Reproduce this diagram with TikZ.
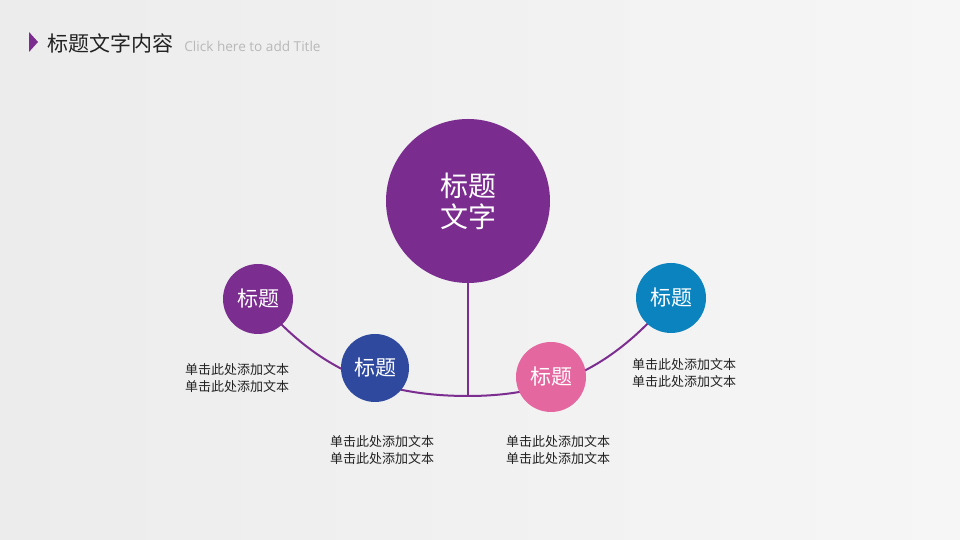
\documentclass[tikz,border=0pt]{standalone}
\usepackage{fontspec}
\setmainfont{Open Sans}
\newfontfamily\cjk{Noto Sans CJK SC}
\usepackage{xcolor}
\usetikzlibrary{positioning, backgrounds}

\definecolor{bigpurple}{RGB}{122,45,142}
\definecolor{lilac}{RGB}{123,46,143}
\definecolor{navy}{RGB}{46,73,158}
\definecolor{rose}{RGB}{229,103,160}
\definecolor{ocean}{RGB}{10,131,190}
\definecolor{inkgray}{RGB}{34,34,34}

\begin{document}
\begin{tikzpicture}[x=0.5pt,y=0.5pt,
                    main node/.style={circle,draw=none,text=white,inner sep=0pt,minimum size=35pt,font=\cjk\fontsize{10.5}{13}\selectfont},
                    note/.style={align=center,text=inkgray,font=\cjk\fontsize{6.5}{8.5}\selectfont},
                    link/.style={color=lilac,line width=1pt}]

%Background
 \useasboundingbox (0,0) rectangle (960,540);
\begin{scope}[on background layer]
 \shade[left color={rgb,255:red,236;green,236;blue,237},right color={rgb,255:red,246;green,246;blue,247}] (0,0) rectangle (960,540);
\end{scope}

%Title bar
 \fill[bigpurple] (29,508) -- (38,498) -- (29,488) -- cycle;
 \node[anchor=west,inner sep=0pt,text=inkgray,font=\cjk\fontsize{10.5}{13}\selectfont] (Title) at (47,497) {标题文字内容};
 \node[anchor=west,inner sep=0pt,text=black!28,font=\fontsize{6.8}{8}\selectfont] (Subtitle) at (184,494) {Click here to add Title};

%Circles
 \node[main node,fill=bigpurple,minimum size=82pt,align=center,font=\cjk\fontsize{14}{15.5}\selectfont] (Big) at (468,339) {标题\\文字};
 \node[main node,fill=lilac] (Topic1) at (258,241) {标题};
 \node[main node,fill=navy,minimum size=34pt] (Topic2) at (375,172) {标题};
 \node[main node,fill=rose] (Topic3) at (551,163) {标题};
 \node[main node,fill=ocean] (Topic4) at (671,242) {标题};
 \coordinate (Hub) at (468,144);

%Connecting lines
\begin{scope}[on background layer]
 \draw[link] (Big.south) -- (Hub);
 \draw[link] (Topic1.center) to[out=-50,in=180] (Hub) to[out=0,in=230] (Topic4.center);
\end{scope}

%Text under the circles
 \node[note] (Note1) at (237,162) {单击此处添加文本\\单击此处添加文本};
 \node[note] (Note2) at (382,90) {单击此处添加文本\\单击此处添加文本};
 \node[note] (Note3) at (558,90) {单击此处添加文本\\单击此处添加文本};
 \node[note] (Note4) at (684,167) {单击此处添加文本\\单击此处添加文本};

\end{tikzpicture}
\end{document}
